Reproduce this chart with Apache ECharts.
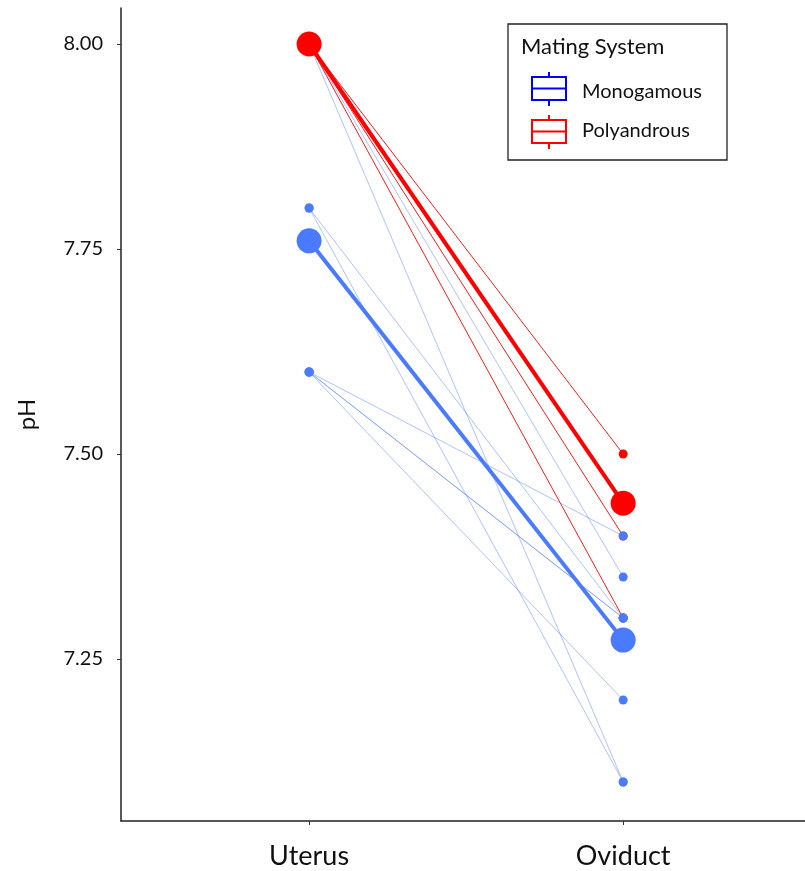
<!DOCTYPE html>
<html>
<head>
<meta charset="utf-8">
<script src="https://cdn.jsdelivr.net/npm/echarts@6/dist/echarts.min.js"></script>
<style>html,body{margin:0;padding:0;background:#fff}#c{width:805px;height:871px}</style>
</head>
<body>
<div id="c"></div>
<script>
// ---- data ----
const categories = ['Uterus', 'Oviduct'];
const yTicks = [7.25, 7.5, 7.75, 8.0];
const monoUterus  = [8.0, 8.0, 7.8, 7.8, 7.6, 7.6, 7.6, 7.6];
const monoOviduct = [7.35, 7.1, 7.3, 7.1, 7.4, 7.3, 7.3, 7.2];
const polyUterus  = [8.0, 8.0, 8.0];
const polyOviduct = [7.5, 7.4, 7.3];
const monoMean = [7.76, 7.273];
const polyMean = [8.0, 7.44];
const groups = ['Monogamous', 'Polyandrous'];

// ---- styles ----
const BLUE = '#4a7bff';
const RED = '#ff0000';
const FONT = 'Lato';

const chart = echarts.init(document.getElementById('c'), null, {renderer: 'canvas'});

const series = [];
function pairLine(u, o, color, lineOpacity, width, size, z) {
  return {
    type: 'line',
    data: [[1, u], [2, o]],
    symbol: 'circle',
    symbolSize: size,
    showSymbol: true,
    itemStyle: {color: color, opacity: 1},
    lineStyle: {color: color, width: width, opacity: lineOpacity},
    z: z,
    silent: true,
    animation: false
  };
}
polyUterus.forEach((u, i) => series.push(pairLine(u, polyOviduct[i], RED, 0.9, 1, 9, 2)));
monoUterus.forEach((u, i) => series.push(pairLine(u, monoOviduct[i], BLUE, 0.45, 1, 9, 3)));
series.push(pairLine(monoMean[0], monoMean[1], BLUE, 1, 4, 25, 4));
series.push(pairLine(polyMean[0], polyMean[1], RED, 1, 4, 25, 5));

function boxIcon(x, yTop, color) {
  return [
    {type: 'line', shape: {x1: x + 17, y1: yTop, x2: x + 17, y2: yTop + 34}, style: {stroke: color, lineWidth: 2}},
    {type: 'rect', shape: {x: x, y: yTop + 5, width: 34, height: 23}, style: {fill: '#fff', stroke: color, lineWidth: 2}},
    {type: 'line', shape: {x1: x, y1: yTop + 16.5, x2: x + 34, y2: yTop + 16.5}, style: {stroke: color, lineWidth: 2}}
  ];
}

const legendGraphics = [
  {type: 'rect', shape: {x: 508, y: 24, width: 219, height: 136}, style: {fill: '#fff', stroke: '#222', lineWidth: 1.3}, z: 10},
  {type: 'text', x: 521, y: 47, style: {text: 'Mating System', font: '22px ' + FONT, fill: '#111', textVerticalAlign: 'middle'}, z: 11},
  ...boxIcon(532, 72, '#0000ff').map(g => Object.assign(g, {z: 11})),
  ...boxIcon(532, 115, '#ff0000').map(g => Object.assign(g, {z: 11})),
  {type: 'text', x: 582, y: 92, style: {text: groups[0], font: '20px ' + FONT, fill: '#111', textVerticalAlign: 'middle'}, z: 11},
  {type: 'text', x: 582, y: 131, style: {text: groups[1], font: '20px ' + FONT, fill: '#111', textVerticalAlign: 'middle'}, z: 11}
];

const option = {
  backgroundColor: '#fff',
  animation: false,
  grid: {left: 121, top: 8, right: 0, height: 813, containLabel: false},
  xAxis: {
    type: 'value',
    min: 0.401,
    max: 2.579,
    splitLine: {show: false},
    axisLine: {show: true, onZero: false, lineStyle: {color: '#222', width: 1.5}},
    axisTick: {show: true, customValues: [1, 2], length: 4, lineStyle: {color: '#333', width: 1}},
    axisLabel: {
      customValues: [1, 2],
      formatter: v => categories[Math.round(v) - 1] || '',
      fontFamily: FONT, fontSize: 27, color: '#111', margin: 22
    }
  },
  yAxis: {
    type: 'value',
    min: 7.0524,
    max: 8.0439,
    name: 'pH',
    nameLocation: 'middle',
    nameGap: 82,
    nameTextStyle: {fontFamily: FONT, fontSize: 24, color: '#111'},
    splitLine: {show: false},
    axisLine: {show: true, onZero: false, lineStyle: {color: '#222', width: 1.5}},
    axisTick: {show: true, customValues: yTicks, length: 4, lineStyle: {color: '#333', width: 1}},
    axisLabel: {
      customValues: yTicks,
      formatter: v => v.toFixed(2),
      fontFamily: FONT, fontSize: 20, color: '#111', margin: 18
    }
  },
  graphic: legendGraphics,
  series: series
};
chart.setOption(option);
</script>
</body>
</html>
